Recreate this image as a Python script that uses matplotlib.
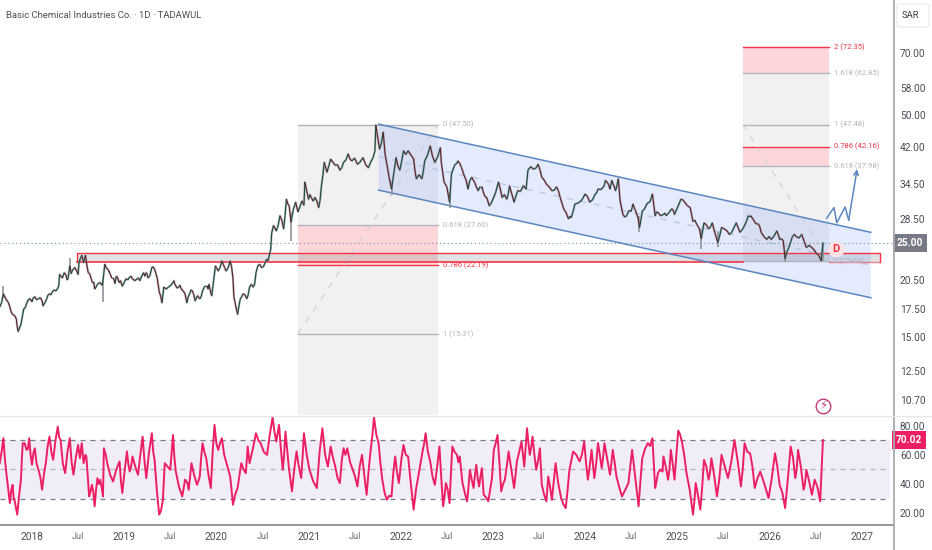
import matplotlib
matplotlib.use('Agg')
import matplotlib.pyplot as plt
from matplotlib.collections import LineCollection
from matplotlib.lines import Line2D
from matplotlib.patches import FancyBboxPatch
import numpy as np

plt.rcParams['font.family'] = ['Roboto', 'DejaVu Sans']

# closes (time as fractional year)
price_t = [2017.65, 2017.67, 2017.69, 2017.73, 2017.76, 2017.79, 2017.83, 2017.85, 2017.88, 2017.91, 2017.94, 2017.98,
           2018.00, 2018.03, 2018.07, 2018.11, 2018.12, 2018.16, 2018.19, 2018.22, 2018.26, 2018.29, 2018.30, 2018.33,
           2018.37, 2018.39, 2018.41, 2018.44, 2018.49, 2018.51, 2018.54, 2018.56, 2018.58, 2018.61, 2018.64, 2018.67,
           2018.68, 2018.71, 2018.76, 2018.77, 2018.79, 2018.82, 2018.85, 2018.88, 2018.90, 2018.93, 2018.96, 2018.98,
           2019.02, 2019.06, 2019.09, 2019.14, 2019.17, 2019.21, 2019.24, 2019.26, 2019.30, 2019.33, 2019.36, 2019.38,
           2019.41, 2019.43, 2019.48, 2019.53, 2019.55, 2019.59, 2019.62, 2019.66, 2019.68, 2019.71, 2019.74, 2019.77,
           2019.82, 2019.85, 2019.90, 2019.92, 2019.95, 2019.97, 2019.99, 2020.02, 2020.06, 2020.09, 2020.12, 2020.15,
           2020.18, 2020.19, 2020.21, 2020.23, 2020.26, 2020.29, 2020.33, 2020.36, 2020.40, 2020.43, 2020.45, 2020.49,
           2020.53, 2020.56, 2020.59, 2020.60, 2020.62, 2020.65, 2020.69, 2020.73, 2020.76, 2020.79, 2020.81, 2020.86,
           2020.91, 2020.95, 2020.96, 2021.00, 2021.03, 2021.07, 2021.11, 2021.14, 2021.17, 2021.20, 2021.24, 2021.29,
           2021.34, 2021.38, 2021.43, 2021.47, 2021.53, 2021.59, 2021.65, 2021.70, 2021.72, 2021.73, 2021.77, 2021.81,
           2021.85, 2021.90, 2021.95, 2021.99, 2022.03, 2022.08, 2022.14, 2022.17, 2022.23, 2022.26, 2022.32, 2022.37,
           2022.43, 2022.44, 2022.47, 2022.50, 2022.53, 2022.55, 2022.59, 2022.62, 2022.66, 2022.71, 2022.73, 2022.77,
           2022.80, 2022.84, 2022.88, 2022.91, 2022.96, 2023.00, 2023.06, 2023.10, 2023.15, 2023.18, 2023.23, 2023.27,
           2023.33, 2023.36, 2023.38, 2023.44, 2023.49, 2023.53, 2023.58, 2023.64, 2023.69, 2023.73, 2023.77, 2023.82,
           2023.85, 2023.89, 2023.94, 2024.00, 2024.05, 2024.11, 2024.14, 2024.20, 2024.22, 2024.27, 2024.29, 2024.33,
           2024.36, 2024.38, 2024.41, 2024.45, 2024.50, 2024.52, 2024.55, 2024.59, 2024.62, 2024.67, 2024.70, 2024.73,
           2024.76, 2024.79, 2024.85, 2024.88, 2024.94, 2024.97, 2025.04, 2025.08, 2025.14, 2025.17, 2025.21, 2025.24,
           2025.26, 2025.29, 2025.34, 2025.38, 2025.42, 2025.44, 2025.48, 2025.54, 2025.59, 2025.64, 2025.68, 2025.73,
           2025.77, 2025.82, 2025.88, 2025.91, 2025.97, 2026.02, 2026.08, 2026.11, 2026.15, 2026.17, 2026.21, 2026.25,
           2026.29, 2026.35, 2026.40, 2026.46, 2026.51, 2026.55, 2026.56, 2026.58]
price_v = [17.7, 18.1, 19.0, 18.3, 17.7, 17.0, 16.6, 15.5, 16.1, 17.5, 18.0, 18.5,
           18.2, 18.7, 18.5, 18.3, 17.8, 18.5, 19.0, 19.2, 19.3, 19.8, 21.1, 20.7,
           21.0, 20.6, 22.1, 21.6, 21.4, 22.5, 23.4, 22.5, 23.4, 21.3, 20.7, 20.2,
           19.5, 20.0, 19.9, 20.4, 22.3, 21.7, 21.1, 20.7, 20.1, 20.7, 20.4, 19.8,
           20.6, 20.8, 20.6, 20.6, 20.4, 21.3, 21.3, 20.7, 21.9, 21.7, 20.6, 19.2,
           18.1, 19.7, 19.7, 20.2, 20.0, 19.7, 19.5, 19.0, 18.1, 19.0, 19.3, 18.3,
           18.5, 19.3, 19.8, 20.0, 18.8, 20.4, 22.1, 21.5, 22.7, 21.9, 21.7, 22.7,
           20.7, 18.7, 17.8, 17.0, 18.5, 19.0, 18.5, 19.7, 19.7, 21.3, 22.1, 21.9,
           22.5, 22.7, 24.2, 26.4, 27.5, 26.7, 29.0, 27.0, 31.7, 30.6, 28.0, 31.2,
           30.6, 30.7, 34.8, 31.7, 32.0, 32.0, 30.3, 34.1, 38.7, 36.7, 39.4, 38.1,
           37.1, 38.7, 40.5, 39.0, 38.3, 39.7, 37.6, 39.7, 41.2, 47.4, 41.6, 45.6,
           38.3, 33.5, 39.7, 37.1, 41.2, 41.2, 39.4, 35.4, 35.4, 39.0, 42.3, 38.7,
           41.9, 38.7, 34.8, 33.9, 31.2, 36.3, 38.3, 39.0, 37.6, 35.1, 33.5, 35.7,
           34.8, 33.2, 33.9, 32.3, 30.6, 31.7, 34.8, 32.0, 31.7, 34.1, 31.2, 33.2,
           34.1, 33.5, 37.1, 37.3, 38.3, 35.7, 34.4, 33.2, 33.9, 32.0, 30.0, 28.5,
           28.7, 30.9, 31.2, 32.6, 31.2, 32.6, 33.5, 33.9, 35.1, 33.5, 35.1, 33.2,
           35.4, 31.4, 29.2, 29.0, 29.7, 30.9, 29.7, 27.2, 29.7, 30.9, 31.2, 32.6,
           29.0, 29.5, 29.2, 29.0, 30.1, 29.2, 31.7, 31.2, 30.3, 28.1, 27.7, 27.0,
           25.6, 27.9, 27.0, 27.9, 25.9, 25.1, 27.2, 26.7, 26.5, 27.9, 26.5, 27.5,
           29.0, 28.5, 27.7, 26.5, 25.5, 25.5, 26.7, 25.5, 25.3, 23.0, 24.4, 25.9,
           25.9, 26.2, 24.4, 24.4, 23.6, 23.0, 22.7, 25.0]

# smaller moves between the closes above
price_t2 = [2017.71, 2017.745, 2017.775, 2017.81, 2017.84, 2017.90, 2017.925, 2017.96, 2018.015, 2018.05, 2018.09,
            2018.14, 2018.175, 2018.205, 2018.24, 2018.275, 2018.315, 2018.35, 2018.38, 2018.425, 2018.465, 2018.50,
            2018.525, 2018.57, 2018.595, 2018.625, 2018.655, 2018.695, 2018.735, 2018.805, 2018.835, 2018.865, 2018.89,
            2018.915, 2018.945, 2019.00, 2019.04, 2019.075, 2019.115, 2019.155, 2019.19, 2019.225, 2019.25, 2019.28,
            2019.315, 2019.345, 2019.395, 2019.455, 2019.505, 2019.54, 2019.575, 2019.605, 2019.64, 2019.695, 2019.725,
            2019.755, 2019.795, 2019.835, 2019.875, 2019.91, 2019.935, 2020.005, 2020.04, 2020.075, 2020.105, 2020.135,
            2020.165, 2020.245, 2020.275, 2020.31, 2020.345, 2020.38, 2020.415, 2020.47, 2020.51, 2020.545, 2020.67,
            2020.71, 2020.745, 2020.775, 2020.835, 2020.885, 2020.93, 2020.98, 2021.015, 2021.05, 2021.09, 2021.125,
            2021.155, 2021.22, 2021.265, 2021.315, 2021.36, 2021.405, 2021.45, 2021.50, 2021.56, 2021.62, 2021.675,
            2021.79, 2021.83, 2021.875, 2021.925, 2021.97, 2022.01, 2022.055, 2022.11, 2022.155, 2022.20, 2022.245,
            2022.29, 2022.345, 2022.40, 2022.57, 2022.605, 2022.64, 2022.685, 2022.75, 2022.785, 2022.82, 2022.86,
            2022.895, 2022.935, 2022.98, 2023.03, 2023.08, 2023.125, 2023.165, 2023.205, 2023.25, 2023.30, 2023.41,
            2023.465, 2023.51, 2023.555, 2023.61, 2023.665, 2023.71, 2023.79, 2023.835, 2023.87, 2023.915, 2023.97,
            2024.025, 2024.08, 2024.125, 2024.17, 2024.21, 2024.25, 2024.31, 2024.345, 2024.43, 2024.475, 2024.535,
            2024.575, 2024.605, 2024.645, 2024.685, 2024.715, 2024.775, 2024.82, 2024.865, 2024.91, 2024.955, 2025.005,
            2025.06, 2025.11, 2025.155, 2025.19, 2025.315, 2025.36, 2025.40, 2025.46, 2025.51, 2025.565, 2025.615,
            2025.66, 2025.705, 2025.75, 2025.795, 2025.85, 2025.895, 2025.94, 2025.995, 2026.05, 2026.095, 2026.13,
            2026.19, 2026.23, 2026.27, 2026.32, 2026.375, 2026.43, 2026.485, 2026.53]
price_v2 = [18.6, 18.1, 17.2, 16.9, 15.9, 17.0, 17.6, 18.4, 18.6, 18.4, 18.6,
            18.1, 18.9, 18.9, 19.4, 19.5, 20.9, 21.3, 20.5, 21.2, 21.9, 21.1,
            23.0, 23.0, 22.2, 21.2, 20.2, 19.7, 20.2, 21.9, 21.5, 20.7, 20.5,
            20.9, 20.2, 20.2, 20.5, 20.9, 20.4, 20.7, 20.9, 20.9, 21.1, 21.0,
            22.0, 21.2, 18.8, 19.5, 19.9, 20.4, 19.6, 19.9, 19.3, 18.7, 19.4,
            18.9, 18.8, 18.7, 19.8, 19.5, 19.3, 21.8, 21.9, 22.3, 21.5, 22.1,
            22.0, 17.8, 18.7, 18.9, 18.9, 20.0, 20.0, 22.3, 22.0, 22.9, 27.5,
            28.3, 29.0, 30.9, 30.0, 29.6, 31.4, 33.2, 32.5, 31.4, 31.4, 31.5,
            36.0, 38.0, 38.7, 38.2, 37.6, 39.2, 39.4, 39.6, 38.8, 38.2, 38.8,
            42.9, 40.5, 35.6, 36.5, 37.9, 38.9, 40.4, 40.3, 36.9, 36.2, 36.9,
            40.2, 40.0, 39.8, 37.4, 38.4, 38.5, 36.2, 35.1, 35.2, 33.9, 33.9,
            33.0, 31.9, 31.0, 32.9, 33.5, 32.5, 32.5, 32.6, 32.3, 33.1, 37.8,
            37.5, 37.2, 35.2, 33.9, 33.3, 33.2, 29.6, 28.9, 29.7, 31.0, 31.7,
            32.2, 31.6, 32.8, 33.4, 34.3, 34.5, 34.2, 34.1, 28.8, 29.8, 30.2,
            28.6, 28.3, 30.1, 31.1, 31.8, 29.6, 29.0, 29.4, 29.5, 29.9, 30.4,
            31.6, 30.6, 29.2, 28.3, 27.6, 27.3, 26.8, 26.0, 27.0, 26.2, 27.2,
            27.2, 26.9, 28.1, 29.0, 27.8, 27.3, 25.9, 25.9, 26.0, 26.2, 25.6,
            23.9, 25.2, 26.2, 25.7, 25.3, 24.7, 24.1, 23.5]

# the long grey wicks that stick out of the candles
wick_t = [2017.69, 2018.41, 2018.77, 2020.81, 2021.90, 2022.53, 2024.59, 2025.26, 2025.44, 2026.17, 2026.58]
wick_low = [18.6, 21.5, 18.2, 25.3, 32.4, 30.2, 26.6, 24.2, 24.5, 22.6, 22.7]
wick_high = [19.8, 23.1, 20.6, 29.5, 35.0, 33.0, 29.0, 27.0, 26.5, 24.0, 25.1]

rsi_t = [2017.65, 2017.69, 2017.72, 2017.76, 2017.79, 2017.81, 2017.84, 2017.88, 2017.90, 2017.94, 2017.97, 2018.00,
         2018.03, 2018.07, 2018.11, 2018.15, 2018.19, 2018.23, 2018.28, 2018.31, 2018.36, 2018.41, 2018.45, 2018.50,
         2018.52, 2018.54, 2018.56, 2018.59, 2018.62, 2018.65, 2018.68, 2018.71, 2018.74, 2018.77, 2018.78, 2018.82,
         2018.88, 2018.95, 2018.98, 2019.03, 2019.06, 2019.09, 2019.15, 2019.20, 2019.24, 2019.30, 2019.33, 2019.38,
         2019.42, 2019.44, 2019.50, 2019.53, 2019.56, 2019.63, 2019.66, 2019.70, 2019.73, 2019.79, 2019.82, 2019.85,
         2019.89, 2019.94, 2019.98, 2020.02, 2020.06, 2020.11, 2020.15, 2020.18, 2020.23, 2020.27, 2020.32, 2020.34,
         2020.36, 2020.43, 2020.48, 2020.55, 2020.61, 2020.65, 2020.68, 2020.72, 2020.75, 2020.82, 2020.87, 2020.92,
         2020.95, 2021.01, 2021.09, 2021.15, 2021.21, 2021.24, 2021.29, 2021.34, 2021.38, 2021.42, 2021.48, 2021.53,
         2021.58, 2021.63, 2021.67, 2021.71, 2021.76, 2021.80, 2021.85, 2021.90, 2021.94, 2021.98, 2022.03, 2022.08,
         2022.14, 2022.19, 2022.24, 2022.27, 2022.32, 2022.37, 2022.42, 2022.46, 2022.49, 2022.53, 2022.56, 2022.61,
         2022.64, 2022.67, 2022.72, 2022.75, 2022.79, 2022.82, 2022.85, 2022.88, 2022.90, 2022.95, 2022.99, 2023.01,
         2023.05, 2023.09, 2023.13, 2023.17, 2023.23, 2023.26, 2023.31, 2023.34, 2023.37, 2023.40, 2023.43, 2023.47,
         2023.51, 2023.53, 2023.58, 2023.60, 2023.64, 2023.68, 2023.74, 2023.79, 2023.83, 2023.87, 2023.94, 2023.99,
         2024.03, 2024.07, 2024.10, 2024.14, 2024.18, 2024.21, 2024.27, 2024.30, 2024.34, 2024.40, 2024.47, 2024.51,
         2024.58, 2024.62, 2024.68, 2024.73, 2024.76, 2024.79, 2024.84, 2024.85, 2024.90, 2024.93, 2024.97, 2025.01,
         2025.05, 2025.10, 2025.17, 2025.20, 2025.25, 2025.29, 2025.34, 2025.37, 2025.43, 2025.48, 2025.55, 2025.62,
         2025.69, 2025.73, 2025.79, 2025.84, 2025.90, 2025.99, 2026.06, 2026.11, 2026.17, 2026.23, 2026.28, 2026.31,
         2026.37, 2026.40, 2026.46, 2026.49, 2026.55, 2026.58]
rsi_v = [54.3, 71.4, 48.6, 27.0, 39.5, 29.3, 19.1, 43.0, 68.0, 63.4, 71.4, 53.2,
         64.5, 49.8, 36.1, 54.3, 72.5, 56.6, 79.3, 70.2, 47.5, 71.4, 46.4, 66.8,
         57.7, 68.0, 54.3, 58.9, 31.6, 39.5, 24.8, 44.1, 43.0, 31.6, 64.5, 53.2,
         41.8, 55.5, 33.9, 62.3, 48.6, 58.9, 46.4, 72.5, 44.1, 74.8, 56.6, 19.1,
         29.3, 54.3, 49.8, 73.6, 48.6, 31.6, 43.0, 36.1, 54.3, 39.5, 45.2, 68.0,
         57.7, 37.3, 80.5, 63.4, 71.4, 54.3, 45.2, 25.9, 37.3, 54.3, 47.5, 65.7,
         54.3, 74.8, 68.0, 60.0, 85.7, 69.1, 80.5, 49.8, 75.9, 35.0, 62.3, 44.1,
         74.8, 49.8, 37.3, 78.2, 52.0, 65.7, 52.0, 40.7, 64.5, 64.5, 49.8, 38.4,
         60.0, 32.7, 61.1, 85.7, 68.0, 43.0, 29.3, 31.6, 58.9, 40.7, 66.8, 58.9,
         22.5, 45.2, 63.4, 74.8, 55.5, 39.5, 65.7, 24.8, 40.7, 27.0, 65.7, 60.0,
         58.9, 40.7, 28.2, 49.8, 37.3, 53.2, 38.4, 50.9, 32.7, 28.2, 44.1, 63.4,
         73.6, 35.0, 43.0, 62.3, 37.3, 55.5, 69.1, 52.0, 78.2, 60.0, 72.5, 49.8,
         64.5, 39.5, 28.2, 45.2, 29.3, 54.3, 30.5, 23.6, 49.8, 62.3, 55.5, 69.1,
         43.0, 63.4, 44.1, 68.0, 50.9, 68.0, 46.4, 63.4, 45.2, 31.6, 40.7, 63.4,
         24.8, 57.7, 68.0, 71.4, 37.3, 47.5, 48.6, 58.9, 43.0, 63.4, 43.0, 76.6,
         69.1, 47.5, 19.1, 40.7, 22.5, 56.6, 43.0, 57.7, 31.6, 60.0, 44.1, 70.2,
         38.4, 68.0, 61.1, 37.3, 48.6, 30.5, 61.1, 39.5, 23.6, 65.7, 44.1, 63.4,
         36.1, 49.8, 32.7, 43.0, 28.2, 70.02]

rsi_t2 = [2017.67, 2017.705, 2017.74, 2017.775, 2017.80, 2017.825, 2017.86, 2017.89, 2017.92, 2017.955, 2017.985,
          2018.015, 2018.05, 2018.09, 2018.13, 2018.17, 2018.21, 2018.255, 2018.295, 2018.335, 2018.385, 2018.43,
          2018.475, 2018.58, 2018.635, 2018.665, 2018.695, 2018.725, 2018.755, 2018.80, 2018.85, 2018.915, 2018.965,
          2019.005, 2019.045, 2019.075, 2019.12, 2019.175, 2019.22, 2019.27, 2019.315, 2019.355, 2019.40, 2019.47,
          2019.515, 2019.545, 2019.595, 2019.645, 2019.685, 2019.715, 2019.76, 2019.805, 2019.835, 2019.87, 2019.915,
          2019.96, 2020.00, 2020.04, 2020.085, 2020.13, 2020.165, 2020.205, 2020.25, 2020.295, 2020.395, 2020.455,
          2020.515, 2020.58, 2020.63, 2020.70, 2020.735, 2020.785, 2020.845, 2020.895, 2020.935, 2020.98, 2021.05,
          2021.12, 2021.18, 2021.265, 2021.315, 2021.36, 2021.40, 2021.45, 2021.505, 2021.555, 2021.605, 2021.65,
          2021.69, 2021.735, 2021.78, 2021.825, 2021.875, 2021.92, 2021.96, 2022.005, 2022.055, 2022.11, 2022.165,
          2022.215, 2022.255, 2022.295, 2022.345, 2022.395, 2022.44, 2022.475, 2022.51, 2022.545, 2022.585, 2022.625,
          2022.655, 2022.695, 2022.735, 2022.77, 2022.805, 2022.835, 2022.865, 2022.925, 2022.97, 2023.03, 2023.07,
          2023.11, 2023.15, 2023.20, 2023.245, 2023.285, 2023.355, 2023.385, 2023.415, 2023.45, 2023.49, 2023.52,
          2023.555, 2023.59, 2023.62, 2023.66, 2023.71, 2023.765, 2023.81, 2023.85, 2023.905, 2023.965, 2024.01,
          2024.05, 2024.085, 2024.12, 2024.16, 2024.195, 2024.24, 2024.285, 2024.32, 2024.37, 2024.435, 2024.49,
          2024.545, 2024.60, 2024.65, 2024.705, 2024.745, 2024.775, 2024.815, 2024.875, 2024.915, 2024.95, 2024.99,
          2025.03, 2025.075, 2025.135, 2025.185, 2025.225, 2025.27, 2025.315, 2025.355, 2025.40, 2025.455, 2025.515,
          2025.585, 2025.655, 2025.71, 2025.76, 2025.815, 2025.87, 2025.945, 2026.025, 2026.085, 2026.14, 2026.20,
          2026.255, 2026.295, 2026.34, 2026.385, 2026.43, 2026.475, 2026.52]
rsi_v2 = [62, 58, 38, 36, 31, 24, 32, 57, 68, 64, 60,
          61, 54, 45, 47, 66, 62, 70, 72, 54, 62, 55,
          58, 60, 35, 35, 36, 40, 38, 60, 46, 50, 42,
          49, 54, 52, 52, 60, 56, 62, 62, 35, 22, 52,
          62, 58, 38, 37, 41, 45, 46, 42, 58, 62, 46,
          62, 68, 68, 60, 50, 36, 33, 46, 50, 64, 70,
          62, 74, 76, 64, 60, 52, 50, 52, 58, 60, 42,
          62, 60, 58, 44, 56, 60, 55, 45, 52, 46, 48,
          72, 74, 54, 34, 32, 48, 48, 56, 60, 40, 36,
          54, 68, 62, 45, 52, 44, 32, 36, 48, 62, 55,
          50, 34, 38, 43, 46, 44, 45, 31, 36, 68, 55,
          40, 52, 50, 46, 62, 65, 68, 65, 60, 56, 52,
          33, 37, 38, 42, 40, 26, 36, 56, 60, 60, 55,
          52, 54, 54, 60, 58, 57, 54, 55, 38, 36, 52,
          44, 42, 64, 66, 55, 42, 50, 52, 50, 54, 60,
          74, 60, 36, 28, 32, 38, 52, 48, 46, 43, 52,
          55, 56, 50, 62, 52, 44, 40, 44, 52, 34, 44,
          58, 50, 52, 40, 42, 38, 38]

price_ticks = [70, 58, 50, 42, 34.5, 28.5, 20.5, 17.5, 15, 12.5, 10.7]
rsi_ticks = [80, 60, 40, 20]
time_ticks = [2018, 2018.5, 2019, 2019.5, 2020, 2020.5, 2021, 2021.5, 2022, 2022.5, 2023,
              2023.5, 2024, 2024.5, 2025, 2025.5, 2026, 2026.5, 2027]
time_labels = ['2018', 'Jul', '2019', 'Jul', '2020', 'Jul', '2021', 'Jul', '2022', 'Jul', '2023',
               'Jul', '2024', 'Jul', '2025', 'Jul', '2026', 'Jul', '2027']

# fibonacci tools: level name, price, red or not
fib_left_t = [2020.885, 2022.404]
fib_left = [('0', 47.50, False), ('0.618', 27.60, False), ('0.786', 22.19, True), ('1', 15.31, False)]
fib_right_t = [2025.71, 2026.65]
fib_right = [('2', 72.35, True), ('1.618', 62.85, False), ('1', 47.48, False),
             ('0.786', 42.16, True), ('0.618', 37.98, False), ('0', 22.64, False)]

channel_t = [2021.76, 2027.10]
channel_top = [47.6, 26.5]
channel_bottom = [33.3, 18.6]
channel_mid = [39.9, 22.2]

zone_t = [2018.49, 2027.20]
zone_price = [22.62, 23.72]

path_t = [2026.62, 2026.70, 2026.73, 2026.82, 2026.86, 2026.95]
path_v = [28.6, 30.3, 27.9, 30.4, 28.3, 37.3]

GREY = '#b2b5be'
RED = '#f23645'
BLUE = '#5b86c0'
LINE = '#787b86'
TEXT = '#4a4e57'

fig = plt.figure(figsize=(9.32, 5.5), dpi=100)
W, H = 932.0, 550.0
ax = fig.add_axes([0, (H - 415) / H, 893 / W, 415 / H])
rsi = fig.add_axes([0, (H - 525) / H, 893 / W, 109 / H])

xmin, xmax = 2017.653, 2027.34
ax.set_xlim(xmin, xmax)
ax.set_yscale('log')
ax.set_ylim(9.86, 93.2)

# fib boxes
ax.fill_between(fib_left_t, 27.60, 47.50, color=LINE, alpha=0.1, lw=0, zorder=1)
ax.fill_between(fib_left_t, 22.19, 27.60, color=RED, alpha=0.2, lw=0, zorder=1)
ax.fill_between(fib_left_t, 9.86, 22.19, color=LINE, alpha=0.1, lw=0, zorder=1)
ax.fill_between(fib_right_t, 62.85, 72.35, color=RED, alpha=0.2, lw=0, zorder=1)
ax.fill_between(fib_right_t, 42.16, 62.85, color=LINE, alpha=0.1, lw=0, zorder=1)
ax.fill_between(fib_right_t, 37.98, 42.16, color=RED, alpha=0.2, lw=0, zorder=1)
ax.fill_between(fib_right_t, 22.64, 37.98, color=LINE, alpha=0.1, lw=0, zorder=1)

for levels, span in [(fib_left, fib_left_t), (fib_right, fib_right_t)]:
    for name, value, red in levels:
        col = RED if red else GREY
        ax.plot(span, [value, value], color=col, lw=1.0, zorder=3)
        ax.annotate(f'{name} ({value:.2f})', (span[1], value), xytext=(5, 0), textcoords='offset pixels',
                    color=col, fontsize=5.5, va='center', ha='left', zorder=6)
ax.plot(fib_left_t, [15.31, 47.50], color='#cfd1d6', lw=0.9, ls=(0, (5, 6)), zorder=3)
ax.plot(fib_right_t, [47.48, 22.64], color='#cfd1d6', lw=0.9, ls=(0, (5, 6)), zorder=3)

# support zone
ax.fill_between(zone_t, zone_price[0], zone_price[1], color='#787b86', alpha=0.22, lw=0, zorder=2)
ax.plot([zone_t[0], zone_t[0], zone_t[1], zone_t[1]],
        [zone_price[0], zone_price[1], zone_price[1], zone_price[0]], color=RED, lw=1.0, zorder=4)
ax.plot([fib_right_t[1], zone_t[1]], [zone_price[0], zone_price[0]], color=RED, lw=1.0, alpha=0.6, zorder=4)
ax.plot([zone_t[0], fib_right_t[0]], [zone_price[0], zone_price[0]], color=RED, lw=1.2, zorder=4)

# channel
ax.fill([channel_t[0], channel_t[1], channel_t[1], channel_t[0]],
        [channel_top[0], channel_top[1], channel_bottom[1], channel_bottom[0]],
        color='#2962ff', alpha=0.12, lw=0, zorder=2)
ax.plot(channel_t, channel_top, color=BLUE, lw=1.1, zorder=4)
ax.plot(channel_t, channel_bottom, color=BLUE, lw=1.1, zorder=4)
ax.plot(channel_t, channel_mid, color='#b6c4de', lw=0.9, ls=(0, (5, 6)), zorder=3)

# last price line
ax.axhline(25.0, color='#78909c', lw=0.8, ls=(0, (1, 2.5)), zorder=3)

# candles, squeezed to a wick layer and a coloured close line
order = np.argsort(price_t + price_t2)
all_t = np.array(price_t + price_t2)[order]
all_v = np.array(price_v + price_v2)[order]
ax.vlines(wick_t, wick_low, wick_high, color='#8f9299', lw=1.2, zorder=4)
ax.plot(all_t, all_v, color='#8f9299', lw=1.6, alpha=0.6, zorder=4)
pts = np.column_stack([all_t, all_v])
segs = np.stack([pts[:-1], pts[1:]], axis=1)
seg_col = ['#17493d' if b >= a else '#5e1f26' for a, b in zip(all_v[:-1], all_v[1:])]
ax.add_collection(LineCollection(segs, colors=seg_col, linewidths=0.8, zorder=5))

# hand drawn path with arrow
ax.plot(path_t[:-1], path_v[:-1], color=BLUE, lw=1.1, zorder=6)
ax.annotate('', xy=(path_t[-1], path_v[-1]), xytext=(path_t[-2], path_v[-2]),
            arrowprops=dict(arrowstyle='->', color=BLUE, lw=1.1, shrinkA=0, shrinkB=0, mutation_scale=8), zorder=6)

# dividend marker and the flash icon
ax.scatter([2026.72], [24.2], s=130, color='#fde3e5', zorder=7, lw=0)
ax.text(2026.72, 24.2, 'D', color=RED, fontsize=8, fontweight='bold', ha='center', va='center', zorder=8)
ax.scatter([2026.58], [10.38], s=110, facecolor='white', edgecolor='#c4387c', lw=1, zorder=7)
ax.text(2026.58, 10.38, '\u26a1', color='#c4387c', fontsize=8.5, ha='center', va='center', zorder=8,
        family=['DejaVu Sans'])

ax.set_yticks(price_ticks)
ax.set_yticklabels([f'{v:.2f}' for v in price_ticks])
ax.minorticks_off()
ax.yaxis.tick_right()
ax.tick_params(axis='y', length=0, pad=5, labelsize=7.3, labelcolor=TEXT)
ax.set_xticks([])
for s in ax.spines.values():
    s.set_visible(False)

# RSI pane
order = np.argsort(rsi_t + rsi_t2)
rsi_all_t = np.array(rsi_t + rsi_t2)[order]
rsi_all_v = np.array(rsi_v + rsi_v2)[order]
rsi.set_xlim(xmin, xmax)
rsi.set_ylim(12.0, 86.6)
rsi.fill_between([xmin, 2027.31], 30, 70, color='#7e57c2', alpha=0.1, lw=0, zorder=1)
rsi.plot([xmin, 2027.31], [70, 70], color=LINE, lw=0.9, ls=(0, (4, 4)), zorder=2)
rsi.plot([xmin, 2027.31], [50, 50], color='#b4b6bd', lw=0.9, ls=(0, (4, 4)), zorder=2)
rsi.plot([xmin, 2027.31], [30, 30], color=LINE, lw=0.9, ls=(0, (4, 4)), zorder=2)
rsi.plot(rsi_all_t, rsi_all_v, color='#ec1e64', lw=1.4, zorder=3, solid_joinstyle='round')
rsi.set_yticks(rsi_ticks)
rsi.set_yticklabels([f'{v:.2f}' for v in rsi_ticks])
rsi.yaxis.tick_right()
rsi.tick_params(axis='y', length=0, pad=5, labelsize=7.3, labelcolor=TEXT)
rsi.set_xticks(time_ticks)
rsi.set_xticklabels(time_labels)
rsi.tick_params(axis='x', length=0, pad=5, labelsize=7.3, labelcolor=TEXT)
for lab in rsi.get_xticklabels():
    if lab.get_text() == 'Jul':
        lab.set_color('#6a6d78')
        lab.set_fontsize(6.6)
for s in rsi.spines.values():
    s.set_visible(False)
rsi.spines['bottom'].set_visible(True)
rsi.spines['bottom'].set_color('#8a8d94')
rsi.spines['bottom'].set_linewidth(1.3)

# last value tags on the scale
ax.text(1.0 + 17 / 893, 25.0, '25.00', transform=ax.get_yaxis_transform(), color='white', fontsize=7.3,
        fontweight='bold', ha='center', va='center', zorder=9, clip_on=False,
        bbox=dict(boxstyle='square,pad=0.42', fc='#787b86', ec='none'))
rsi.text(1.0 + 16 / 893, 70.02, '70.02', transform=rsi.get_yaxis_transform(), color='white', fontsize=7.3,
         fontweight='bold', ha='center', va='center', zorder=9, clip_on=False,
         bbox=dict(boxstyle='square,pad=0.42', fc='#ec1e64', ec='none'))

# pane separators and price scale border
fig.add_artist(Line2D([893.5 / W, 893.5 / W], [0, 1], color='#a8aab0', lw=1.3))
fig.add_artist(Line2D([0, 1], [(H - 416) / H, (H - 416) / H], color='#e6e6e8', lw=0.9))

# SAR box
fig.add_artist(FancyBboxPatch((897 / W, (H - 27) / H), 32 / W, 23 / H, transform=fig.transFigure,
                              boxstyle='round,pad=0,rounding_size=0.004', fc='white', ec='#ececee', lw=0.9))
fig.text(910.5 / W, (H - 16) / H, 'SAR', color='#3d4049', fontsize=6.8, ha='center', va='center')

fig.text(6 / W, (H - 16) / H, 'Basic Chemical Industries Co. \u00b7 1D \u00b7 TADAWUL', color='#4a4e57',
         fontsize=6.8, ha='left', va='center')

fig.savefig('out.png', dpi=100)
